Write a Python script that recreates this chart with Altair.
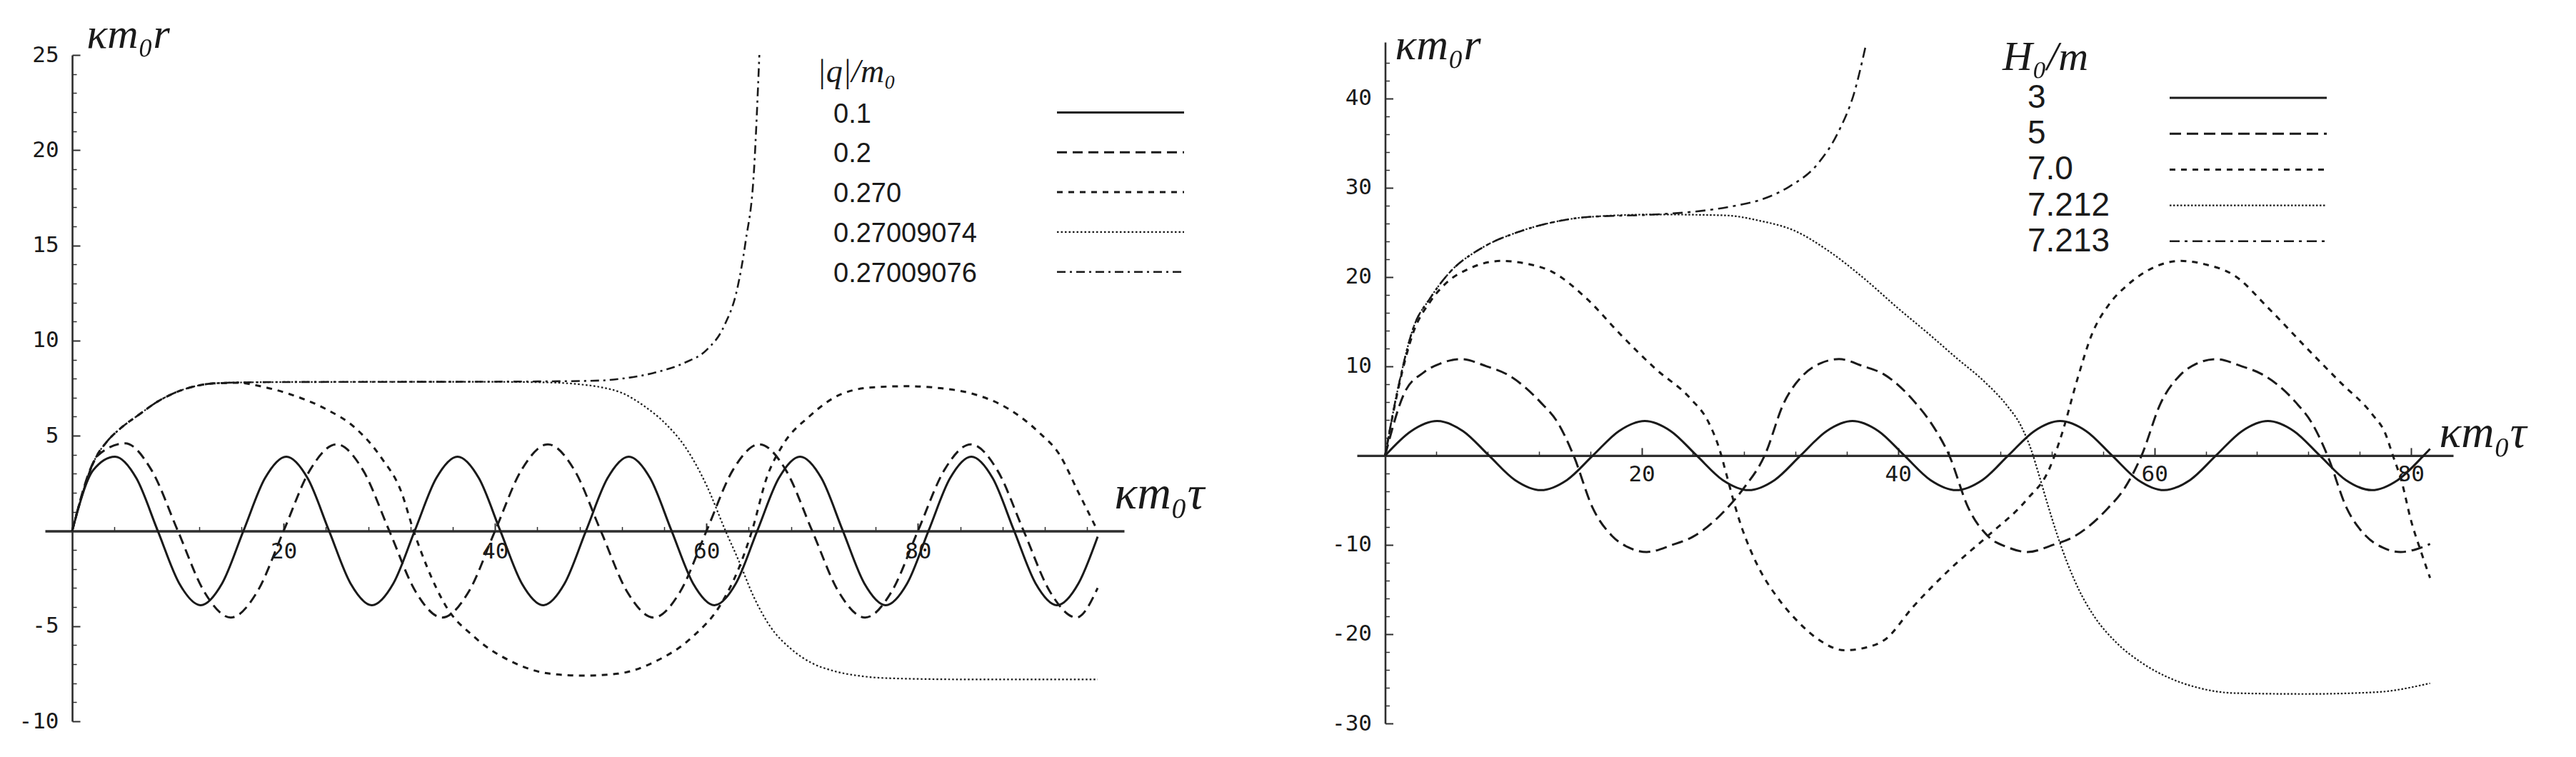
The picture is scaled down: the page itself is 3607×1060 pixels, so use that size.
import altair as alt
import pandas as pd

# ---------------- left panel: |q|/m0 ----------------
Q_LABELS = ["0.1", "0.2", "0.270", "0.27009074", "0.27009076"]

Q01_T = [0, 2.0, 4.05, 6.08, 8.1, 10.13, 12.15, 14.18, 16.2, 18.23, 20.25, 22.28, 24.3, 26.33, 28.35, 30.38,
         32.4, 34.43, 36.45, 38.48, 40.5, 42.53, 44.55, 46.58, 48.6, 50.63, 52.65, 54.68, 56.7, 58.73, 60.75, 62.78,
         64.8, 66.83, 68.85, 70.88, 72.9, 74.93, 76.95, 78.98, 81.0, 83.03, 85.05, 87.08, 89.1, 91.13, 93.15, 95.18, 97.0]
Q01_R = [0, 3.2, 3.9, 2.76, 0, -2.76, -3.9, -2.76, 0, 2.76, 3.9, 2.76, 0, -2.76, -3.9, -2.76,
         0, 2.76, 3.9, 2.76, 0, -2.76, -3.9, -2.76, 0, 2.76, 3.9, 2.76, 0, -2.76, -3.9, -2.76,
         0, 2.76, 3.9, 2.76, 0, -2.76, -3.9, -2.76, 0, 2.76, 3.9, 2.76, 0, -2.76, -3.9, -2.76, -0.3]

Q02_T = [0, 2.5, 5, 7.5, 10, 12.5, 15, 17.5, 20, 22.5, 25, 27.5, 30, 32.5, 35, 37.5, 40, 42.5, 45, 47.5,
         50, 52.5, 55, 57.5, 60, 62.5, 65, 67.5, 70, 72.5, 75, 77.5, 80, 82.5, 85, 87.5, 90, 92.5, 95, 97]
Q02_R = [0, 4.0, 4.6, 3.2, 0, -3.2, -4.55, -3.2, 0, 3.2, 4.55, 3.2, 0, -3.2, -4.55, -3.2, 0, 3.2, 4.55, 3.2,
         0, -3.2, -4.55, -3.2, 0, 3.2, 4.55, 3.2, 0, -3.2, -4.55, -3.2, 0, 3.2, 4.55, 3.2, 0, -3.2, -4.55, -3.0]

Q0270_T = [0, 1.0, 2.1, 3.3, 4.6, 6.3, 8.1, 9.9, 11.6, 13.4, 15.8, 17.8, 20.5, 24.0, 26.8, 29.3, 31.1, 32.3,
           33.5, 35.3, 38.1, 41.7, 45.2, 48.3, 51.6, 55.0, 58.6, 61.3, 63.1, 64.3, 65.7, 67.2, 69.7, 72.8,
           75.9, 79.0, 82.1, 85.2, 88.6, 91.4, 93.4, 95.2, 97.0]
Q0270_R = [0, 2.0, 3.7, 4.7, 5.4, 6.1, 6.8, 7.3, 7.6, 7.75, 7.78, 7.6, 7.2, 6.4, 5.4, 3.8, 2.1, 0,
           -1.8, -3.9, -5.6, -6.9, -7.5, -7.6, -7.5, -6.9, -5.6, -3.9, -1.9, 0, 2.8, 4.5, 6.0, 7.2,
           7.55, 7.6, 7.5, 7.2, 6.4, 5.2, 4.0, 2.0, 0]

Q074_T = [0, 1.0, 2.1, 3.3, 4.6, 6.3, 8.1, 9.9, 11.6, 13.4, 16.0, 20.0, 30.0, 40.0, 45.0, 48.0, 50.0, 52.0,
          54.0, 56.0, 58.0, 60.0, 61.8, 63.0, 64.5, 66.0, 68.0, 70.0, 72.0, 75.0, 78.0, 85.0, 97.0]
Q074_R = [0, 2.0, 3.7, 4.7, 5.4, 6.1, 6.8, 7.3, 7.6, 7.75, 7.8, 7.82, 7.83, 7.83, 7.8, 7.7, 7.55, 7.25,
          6.6, 5.7, 4.4, 2.4, 0, -1.5, -3.5, -5.0, -6.2, -6.95, -7.35, -7.65, -7.75, -7.8, -7.8]

Q076_T = [0, 1.0, 2.1, 3.3, 4.6, 6.3, 8.1, 9.9, 11.6, 13.4, 16.0, 20.0, 30.0, 40.0, 46.0, 50.0, 52.0, 55.0,
          58.0, 60.0, 61.7, 62.9, 63.7, 64.5, 65.0]
Q076_R = [0, 2.0, 3.7, 4.7, 5.4, 6.1, 6.8, 7.3, 7.6, 7.75, 7.8, 7.82, 7.83, 7.84, 7.86, 7.9, 8.0, 8.3,
          8.85, 9.5, 10.8, 12.7, 15.2, 19.0, 25.0]

# ---------------- right panel: H0/m ----------------
H_LABELS = ["3", "5", "7.0", "7.212", "7.213"]

H3_T = [0, 2.03, 4.05, 6.08, 8.1, 10.13, 12.15, 14.18, 16.2, 18.23, 20.25, 22.28, 24.3, 26.33, 28.35, 30.38,
        32.4, 34.43, 36.45, 38.48, 40.5, 42.53, 44.55, 46.58, 48.6, 50.63, 52.65, 54.68, 56.7, 58.73, 60.75, 62.78,
        64.8, 66.83, 68.85, 70.88, 72.9, 74.93, 76.95, 78.98, 81.0, 81.5]
H3_R = [0, 2.74, 3.87, 2.74, 0, -2.74, -3.87, -2.74, 0, 2.74, 3.87, 2.74, 0, -2.74, -3.87, -2.74,
        0, 2.74, 3.87, 2.74, 0, -2.74, -3.87, -2.74, 0, 2.74, 3.87, 2.74, 0, -2.74, -3.87, -2.74,
        0, 2.74, 3.87, 2.74, 0, -2.74, -3.87, -2.74, 0, 0.75]

H5_T = [0, 1.5, 3.0, 4.3, 5.9, 7.9, 9.5, 12.1, 13.5, 14.7, 16.2, 17.7, 19.0, 20.4, 22.4, 24.0, 26.6, 28.0, 29.6,
        31.1, 32.6, 33.9, 35.4, 37.3, 38.9, 41.3, 42.6, 44.0, 45.5, 47.0, 48.6, 50.1, 52.1, 53.7, 56.3, 57.7, 59.0,
        60.5, 62.0, 63.3, 64.8, 66.8, 68.4, 71.0, 72.3, 73.5, 75.0, 76.5, 77.8, 79.2, 80.4, 81.5]
H5_R = [0, 7.0, 9.3, 10.3, 10.8, 10.0, 9.1, 6.0, 3.6, 0, -5.9, -9.0, -10.3, -10.8, -10.0, -9.1, -6.0, -3.6, 0,
        5.9, 9.0, 10.3, 10.8, 10.0, 9.1, 6.0, 3.6, 0, -5.9, -9.0, -10.3, -10.8, -10.0, -9.1, -6.0, -3.6, 0,
        5.9, 9.0, 10.3, 10.8, 10.0, 9.1, 6.0, 3.6, 0, -5.9, -9.0, -10.3, -10.8, -10.5, -9.9]

H70_T = [0, 1.0, 2.2, 3.5, 4.9, 6.5, 9.1, 11.0, 13.0, 15.7, 18.4, 21.1, 23.8, 25.2, 26.1, 26.6, 27.2, 27.8, 28.5,
         29.3, 30.6, 32.2, 33.8, 35.8, 37.5, 39.0, 41.2, 44.0, 47.0, 50.0, 51.8, 52.8, 54.0, 55.1, 56.5, 57.9,
         60.0, 62.0, 64.0, 66.2, 68.9, 71.7, 74.5, 77.0, 78.0, 78.6, 79.3, 80.0, 80.8, 81.5]
H70_R = [0, 7.3, 13.8, 17.2, 19.5, 20.9, 21.8, 21.5, 20.6, 17.6, 13.5, 9.7, 6.4, 3.8, 0.6, -2.0, -5.2, -8.0, -10.6,
         -13.0, -15.9, -18.6, -20.6, -21.8, -21.5, -20.6, -16.9, -12.8, -9.0, -5.0, -1.5, 2.5, 8.6, 13.5, 17.0, 19.1,
         21.1, 21.8, 21.4, 20.2, 16.5, 12.3, 8.2, 4.6, 2.5, 0, -3.0, -7.2, -10.8, -13.7]

H7212_T = [0, 1.0, 2.2, 3.5, 4.9, 7.6, 10.3, 13.0, 15.7, 21.1, 26.5, 29.2, 31.9, 34.6, 37.3, 40.0, 42.5, 44.5,
           46.8, 48.5, 49.6, 50.4, 51.0, 51.7, 52.4, 53.2, 54.1, 55.3, 57.0, 59.0, 61.0, 63.4, 66.2, 71.7, 77.3, 81.5]
H7212_R = [0, 7.5, 14.3, 17.6, 20.3, 23.3, 25.0, 26.1, 26.7, 27.0, 26.9, 26.3, 25.2, 22.9, 19.9, 16.5, 13.5, 11.0,
           8.2, 5.6, 3.3, 0.6, -2.2, -5.6, -8.8, -12.0, -15.0, -18.0, -20.9, -23.2, -24.8, -26.0, -26.6, -26.7, -26.5, -25.5]

H7213_T = [0, 1.0, 2.2, 3.5, 4.9, 7.6, 10.3, 13.0, 15.7, 21.1, 24.0, 27.4, 29.2, 31.5, 33.7, 35.3, 36.6, 37.5]
H7213_R = [0, 7.5, 14.3, 17.6, 20.3, 23.3, 25.0, 26.1, 26.7, 27.0, 27.3, 28.0, 28.6, 30.1, 32.6, 36.1, 40.7, 46.0]

# ---------------- layout / style ----------------
W, H = 3591, 1044
INK = "#1a1a1a"
AX = "#2e2e2e"
TICKFONT = "DejaVu Sans Mono"
SERIF = "Liberation Serif"
SANS = "Liberation Sans"
DUMMY = pd.DataFrame({"k": [0]})

LEFT = dict(
    xdom=[-2.57, 99.5], xrng=[55, 1566], ydom=[-10, 25], yrng=[1002, 69],
    xmajor=[20, 40, 60, 80], ymajor=[-10, -5, 5, 10, 15, 20, 25],
    xminor=[v for v in range(4, 100, 4) if v % 20 != 0],
    yminor=[v for v in range(-10, 26) if v % 5 != 0 and v != 0],
    xlabpad=14, ylabpad=19, xdw=3.4, ydw=2.6,
    xtitle="κm₀τ", xtx=1552, xty_abs=703, xtsize=66,
    ytitle="κm₀r", ytx_abs=113, yty=58, ytsize=60,
    ticksize=31,
)
RIGHT = dict(
    xdom=[-2.2, 83.3], xrng=[1892, 3427], ydom=[-30, 46.3], yrng=[1005, 51],
    xmajor=[20, 40, 60, 80], ymajor=[-30, -20, -10, 10, 20, 30, 40],
    xminor=[v for v in range(4, 84, 4) if v % 20 != 0],
    yminor=[v for v in range(-30, 46, 2) if v % 10 != 0],
    xlabpad=12, ylabpad=19, xdw=3.4, ydw=2.6,
    xtitle="κm₀τ", xtx=3407, xty_abs=617, xtsize=64,
    ytitle="κm₀r", ytx_abs=1945, yty=74, ytsize=62,
    ticksize=31,
)


def origin(p):
    xd0, xd1 = p["xdom"]
    xr0, xr1 = p["xrng"]
    yd0, yd1 = p["ydom"]
    yr0, yr1 = p["yrng"]
    x0 = xr0 + (0 - xd0) / (xd1 - xd0) * (xr1 - xr0)
    y0 = yr0 + (0 - yd0) / (yd1 - yd0) * (yr1 - yr0)
    return x0, y0


def axes_for(p, kind):
    x0, y0 = origin(p)
    if kind == "labels":
        xa = alt.Axis(orient="bottom", offset=-(H - y0), values=p["xmajor"], ticks=False, tickSize=0,
                      labelPadding=p["xlabpad"], domain=True, domainColor=AX, domainWidth=p["xdw"], grid=False,
                      labelFont=TICKFONT, labelFontSize=p["ticksize"], labelColor=INK,
                      labelExpr="'' + datum.value", labelFlush=False, labelOverlap=False,
                      title=p["xtitle"], titleX=p["xtx"], titleY=p["xty_abs"] - y0, titleAlign="left",
                      titleBaseline="alphabetic", titleFont=SERIF, titleFontStyle="italic",
                      titleFontWeight="normal", titleFontSize=p["xtsize"], titleColor=INK)
        ya = alt.Axis(orient="left", offset=-x0, values=p["ymajor"], ticks=False, tickSize=0,
                      labelPadding=p["ylabpad"], domain=True, domainColor=AX, domainWidth=p["ydw"], grid=False,
                      labelFont=TICKFONT, labelFontSize=p["ticksize"], labelColor=INK,
                      labelExpr="'' + datum.value", labelFlush=False, labelOverlap=False,
                      title=p["ytitle"], titleX=p["ytx_abs"] - x0, titleY=p["yty"], titleAngle=0,
                      titleAlign="left", titleBaseline="alphabetic", titleFont=SERIF, titleFontStyle="italic",
                      titleFontWeight="normal", titleFontSize=p["ytsize"], titleColor=INK)
        return xa, ya
    if kind == "major":
        vals_x, vals_y, size, width = p["xmajor"], p["ymajor"], 11, 2
    else:
        vals_x, vals_y, size, width = p["xminor"], p["yminor"], 6, 1.5
    xa = alt.Axis(orient="top", offset=-y0, values=vals_x, labels=False, domain=False, ticks=True,
                  tickSize=size, tickWidth=width, tickColor=AX, grid=False, title=None)
    ya = alt.Axis(orient="right", offset=-(W - x0), values=vals_y, labels=False, domain=False, ticks=True,
                  tickSize=size, tickWidth=width, tickColor=AX, grid=False, title=None)
    return xa, ya


def curve(ts, rs, p, kind, dash, width, color=INK):
    df = pd.DataFrame({"t": ts, "r": rs})
    xsc = alt.Scale(domain=p["xdom"], range=p["xrng"], nice=False, zero=False)
    ysc = alt.Scale(domain=p["ydom"], range=p["yrng"], nice=False, zero=False)
    if kind is None:
        xa, ya = None, None
    else:
        xa, ya = axes_for(p, kind)
    kw = dict(interpolate="monotone", strokeWidth=width, color=color, strokeJoin="round")
    if dash:
        kw["strokeDash"] = dash
    return alt.Chart(df).mark_line(**kw).encode(
        x=alt.X("t:Q", scale=xsc, axis=xa),
        y=alt.Y("r:Q", scale=ysc, axis=ya),
    )


L_STYLE = [([], 3.0), ([14, 8], 3.0), ([8, 8], 3.0), ([2.5, 3], 2.2), ([12, 6, 3, 6], 2.6)]
R_STYLE = [([], 3.0), ([16, 8], 3.0), ([8, 8], 3.0), ([2.5, 2.5], 2.2), ([14, 7, 4, 7], 2.6)]

L_SERIES = [(Q01_T, Q01_R), (Q02_T, Q02_R), (Q0270_T, Q0270_R), (Q074_T, Q074_R), (Q076_T, Q076_R)]
R_SERIES = [(H3_T, H3_R), (H5_T, H5_R), (H70_T, H70_R), (H7212_T, H7212_R), (H7213_T, H7213_R)]
KINDS = ["labels", "major", "minor", None, None]

layers = []
for (ts, rs), (dash, wdt), kind in zip(L_SERIES, L_STYLE, KINDS):
    layers.append(curve(ts, rs, LEFT, kind, dash, wdt))
for (ts, rs), (dash, wdt), kind in zip(R_SERIES, R_STYLE, KINDS):
    layers.append(curve(ts, rs, RIGHT, kind, dash, wdt))


def text(txt, x, y, font, size, style="normal"):
    return alt.Chart(DUMMY).mark_text(text=txt, font=font, fontSize=size, fontStyle=style, align="left",
                                      baseline="middle", color=INK).encode(x=alt.value(x), y=alt.value(y))


def sample(x1, x2, y, dash, width):
    kw = dict(strokeWidth=width, color=INK)
    if dash:
        kw["strokeDash"] = dash
    return alt.Chart(DUMMY).mark_rule(**kw).encode(x=alt.value(x1), x2=alt.value(x2), y=alt.value(y))


# legend, left panel
layers.append(text("|q|/m₀", 1136, 93, SERIF, 46, "italic"))
for i, lab in enumerate(Q_LABELS):
    yy = 152.5 + i * 55.8
    layers.append(text(lab, 1159, yy, SANS, 38))
    layers.append(sample(1472, 1650, yy - 3, L_STYLE[i][0], L_STYLE[i][1]))

# legend, right panel
layers.append(text("H₀/m", 2796, 73, SERIF, 58, "italic"))
for i, lab in enumerate(H_LABELS):
    yy = 129 + i * 50.2
    layers.append(text(lab, 2831, yy, SANS, 46))
    layers.append(sample(3030, 3250, yy, R_STYLE[i][0], R_STYLE[i][1]))

chart = (
    alt.layer(*layers)
    .resolve_scale(x="independent", y="independent")
    .properties(width=W, height=H, autosize=alt.AutoSizeParams(type="none"), padding=0, background="white")
    .configure_view(strokeWidth=0)
)

chart.save("out.html", embed_options={"renderer": "svg", "actions": False})
